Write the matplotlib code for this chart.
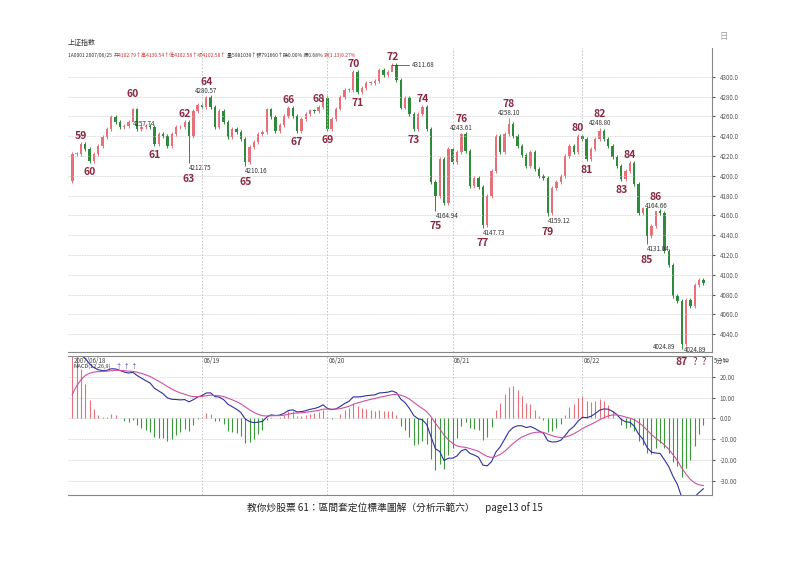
import numpy as np
import matplotlib.pyplot as plt

plt.rcParams['font.family'] = ['Noto Sans CJK TC', 'DejaVu Sans']

# 5-minute closes, 2007/06/18 - 06/22
closes = [4222, 4222, 4232, 4227, 4215, 4222, 4230, 4239, 4247, 4259,
          4254, 4249, 4250, 4254, 4267, 4247, 4249, 4250, 4249, 4232,
          4242, 4240, 4230, 4242, 4249, 4249, 4254, 4240, 4265, 4272,
          4270, 4280, 4270, 4249, 4265, 4254, 4239, 4247, 4244, 4237,
          4214, 4229, 4234, 4242, 4244, 4267, 4259, 4245, 4251, 4260,
          4269, 4260, 4245, 4257, 4262, 4266, 4265, 4270, 4279, 4247,
          4257, 4268, 4280, 4287, 4287, 4305, 4285, 4289, 4294, 4294,
          4296, 4307, 4302, 4305, 4312, 4297, 4269, 4279, 4262, 4247,
          4262, 4270, 4247, 4194, 4180, 4217, 4173, 4227,
          4214, 4224, 4242, 4225, 4190, 4198, 4189, 4150, 4180, 4205,
          4240, 4224, 4242, 4252, 4240, 4230, 4221, 4210, 4224, 4207,
          4200, 4198, 4162, 4188, 4194, 4200, 4220, 4230, 4224, 4240,
          4237, 4217, 4227, 4237, 4245, 4237, 4230, 4219, 4210, 4197,
          4205, 4213, 4192, 4162, 4167, 4139, 4149, 4164, 4162, 4124,
          4110, 4079, 4074, 4030, 4075, 4069, 4090, 4095, 4092]
first_open = 4195
prior_level = 4180   # level of the slow average before the first bar

# marked extremes with price tags
ext_idx = [14, 31, 27, 40, 74, 84, 90, 95, 101, 110, 122, 135, 133, 141]
ext_val = [4257.74, 4280.57, 4212.75, 4210.16, 4311.68, 4164.94, 4243.61, 4147.73,
           4258.10, 4159.12, 4248.80, 4164.66, 4131.04, 4024.89]

# wave numbers
wave_lbl = [59, 60, 60, 61, 62, 63, 64, 65, 66, 67, 68, 69, 70, 71, 72, 73, 74,
            75, 76, 77, 78, 79, 80, 81, 82, 83, 84, 85, 86]
wave_idx = [2, 4, 14, 19, 26, 27, 31, 40, 50, 52, 57, 59, 65, 66, 74, 79, 81,
            84, 90, 95, 101, 110, 117, 119, 122, 127, 129, 133, 135]
wave_up = [1, 0, 1, 0, 1, 0, 1, 0, 1, 0, 1, 0, 1, 0, 1, 0, 1,
           0, 1, 0, 1, 0, 1, 0, 1, 0, 1, 0, 1]

day_start = [0, 30, 59, 88, 118]
day_lbl = ['2007/06/18', '06/19', '06/20', '06/21', '06/22']

header = ['1A0001 2007/06/25 ', '开4102.79↑高4130.54↑低4102.58↑收4102.58↑',
          '量5981039↑额791660↑换0.00% 振0.68%', '涨(1.13)0.27%']
header_col = ['#333333', '#d03030', '#333333', '#d03030']

c = np.array(closes, float)
o = np.concatenate([[first_open], c[:-1]])
hi = np.maximum(o, c) + 2
lo = np.minimum(o, c) - 2
tagged = set()
for i, v in zip(ext_idx, ext_val):
    tagged.add(i)
    if v > c[i]:
        hi[i] = v
    else:
        lo[i] = v
x = np.arange(len(c))

fig = plt.figure(figsize=(8, 5.66), dpi=100)
ax = fig.add_axes([0.085, 0.378, 0.805, 0.537])
am = fig.add_axes([0.085, 0.125, 0.805, 0.246])

red, green = '#e8707a', '#2e8b3a'
for i in x:
    col = red if c[i] >= o[i] else green
    ax.vlines(i, lo[i], hi[i], color=col, lw=0.7)
    ax.bar(i, abs(c[i] - o[i]) or 0.8, bottom=min(o[i], c[i]), width=0.55, color=col)

for i, v in zip(ext_idx, ext_val):
    up = v > c[i]
    if i == 74:
        ax.plot([i, i + 4], [v, v], color='#333333', lw=0.5)
        ax.text(i + 4.5, v, '%.2f' % v, fontsize=4.5, va='center', color='#333333')
    elif i == 141:
        ax.text(i - 1.5, v + 2, '%.2f' % v, fontsize=4.5, ha='right', va='center', color='#333333')
        ax.text(i + 0.5, v - 1, '%.2f' % v, fontsize=4.5, ha='left', va='center', color='#333333')
    else:
        ax.text(i, v + (1 if up else -1), '%.2f' % v, fontsize=4.5,
                ha='left' if not up else 'center', va='bottom' if up else 'top', color='#333333')
for l, i, u in zip(wave_lbl, wave_idx, wave_up):
    if u:
        off = 9 if i in tagged and i != 74 else 1
        ax.text(i, hi[i] + off, str(l), fontsize=7.5, color='#8b2840', ha='center', va='bottom', weight='bold')
    else:
        off = 11 if i in tagged else 4
        ax.text(i, lo[i] - off, str(l), fontsize=7.5, color='#8b2840', ha='center', va='top', weight='bold')

ax.set_xlim(-1, len(c) + 1)
ax.set_ylim(4022, 4329)
ax.set_yticks(np.arange(4040, 4301, 20))
ax.set_yticklabels(['%.1f' % v for v in np.arange(4040, 4301, 20)])
for a in (ax, am):
    a.yaxis.tick_right()
    a.tick_params(axis='y', labelsize=4.5, colors='#555555', length=2)
    a.set_xticks([])
    for s in ['top', 'left']:
        a.spines[s].set_visible(False)
    a.spines['bottom'].set_color('#888888')
    a.spines['right'].set_color('#888888')
    for d in day_start[1:]:
        a.axvline(d, color='#bbbbbb', ls=(0, (2, 2)), lw=0.6)
ax.grid(axis='y', color='#cccccc', ls=(0, (1, 1)), lw=0.6)
ax.text(1.012, 1.03, '日', transform=ax.transAxes, fontsize=6, color='#999999')

# MACD
def ema(s, n, start):
    out = np.empty_like(s)
    prev = start
    k = 2 / (n + 1)
    for i in range(len(s)):
        prev = s[i] * k + prev * (1 - k)
        out[i] = prev
    return out
dif = ema(c, 12, c[0] - 6) - ema(c, 26, prior_level)
dea = ema(dif, 9, 6)
hist = 2 * (dif - dea)
am.vlines(x, 0, hist, colors=np.where(hist >= 0, red, '#3a9a3a'), lw=0.8)
am.plot(x, dif, color='#3030a0', lw=0.8)
am.plot(x, dea, color='#d050a0', lw=0.8)
am.set_xlim(ax.get_xlim())
am.set_ylim(-37, 30)
am.set_yticks([20, 10, 0, -10, -20, -30])
am.set_yticklabels(['20.00', '10.00', '0.00', '-10.00', '-20.00', '-30.00'])
am.grid(axis='y', color='#cccccc', ls=(0, (1, 1)), lw=0.6)
am.spines['top'].set_visible(True)
am.spines['top'].set_color('#888888')
for d, l in zip(day_start, day_lbl):
    am.text(d + 0.3, 29.6, l, fontsize=4.5, color='#444444', va='top')
am.text(0.3, 26.3, 'MACD(12,26,9)', fontsize=4, color='#333333', va='top')
am.text(10, 26.5, '↑ ↑ ↑', fontsize=4.5, color='#4040c0', va='top')
am.text(141, 29.5, '87', fontsize=7.5, color='#8b2840', ha='center', va='top', weight='bold')
am.text(143.5, 29.5, '?  ?', fontsize=7, color='#8b2840', ha='left', va='top')
am.text(1.003, 0.99, '5分钟', transform=am.transAxes, fontsize=4.5, color='#444444', va='top')

fig.text(0.085, 0.92, '上证指数', fontsize=5, color='#333333')
r = fig.canvas.get_renderer()
hx = 0.085
for s, col in zip(header, header_col):
    t = fig.text(hx, 0.899, s, fontsize=3.6, color=col)
    hx += t.get_window_extent(r).width / fig.bbox.width + 0.001

fig.text(0.494, 0.103, '教你炒股票 61：區間套定位標準圖解（分析示範六）     page13 of 15',
         fontsize=7, ha='center', va='center', color='#222222')
fig.savefig('out.png', dpi=100)
